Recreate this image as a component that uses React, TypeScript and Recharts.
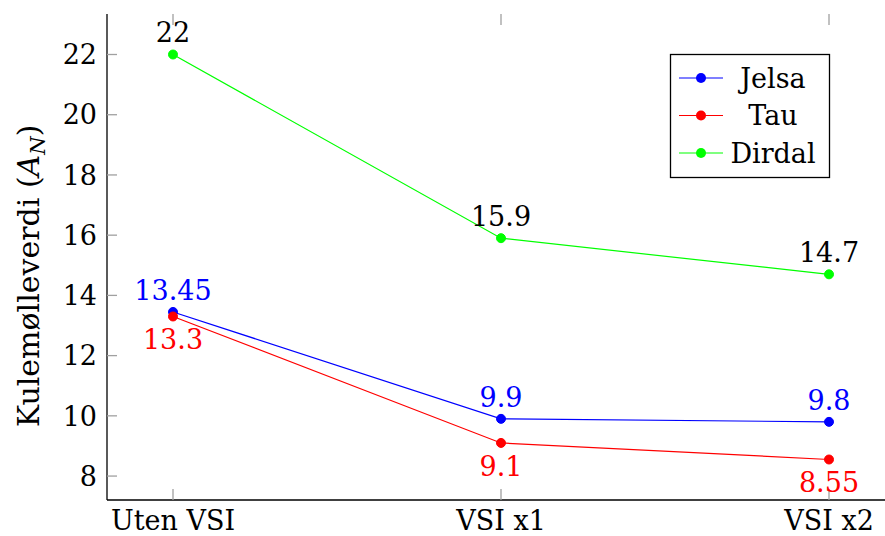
import React from "react";
import { LineChart, Line, XAxis, YAxis, LabelList, Label } from "recharts";

const categories = ["Uten VSI", "VSI x1", "VSI x2"];
const jelsa = [13.45, 9.9, 9.8];
const tau = [13.3, 9.1, 8.55];
const dirdal = [22, 15.9, 14.7];
const yTicks = [8, 10, 12, 14, 16, 18, 20, 22];
const yDomain = [7.205, 23.345];

const data = categories.map((c, i) => ({ name: c, Jelsa: jelsa[i], Tau: tau[i], Dirdal: dirdal[i] }));

const FONT = "DejaVu Serif";
const FS = 27;
const W = 910;
const H = 536;
const PL = 107;
const PR = 895;
const PT = 14;
const PB = 500;
const TICK = "#a0a0a0";
const TS = { fontFamily: FONT, fontSize: FS };

const series = [
  { key: "Jelsa", color: "#0000ff", labelColor: "#0000ff", pos: "above" },
  { key: "Tau", color: "#ff0000", labelColor: "#ff0000", pos: "below" },
  { key: "Dirdal", color: "#00ff00", labelColor: "#000000", pos: "above" },
];

const YTick = (props: any) => {
  const { y, payload } = props;
  return (
    <g>
      <line x1={PL} x2={PL + 10} y1={y} y2={y} stroke={TICK} strokeWidth={1.3} />
      <line x1={PR - 10} x2={PR} y1={y} y2={y} stroke={TICK} strokeWidth={1.3} />
      <text x={97} y={y} dy="0.36em" textAnchor="end" style={TS} fill="#000">
        {payload.value}
      </text>
    </g>
  );
};

const XTick = (props: any) => {
  const { x, payload } = props;
  return (
    <g>
      <line x1={x} x2={x} y1={PB - 11} y2={PB} stroke={TICK} strokeWidth={1.3} />
      <line x1={x} x2={x} y1={PT} y2={PT + 11} stroke={TICK} strokeWidth={1.3} />
      <text x={x} y={530} textAnchor="middle" style={TS} fill="#000">
        {payload.value}
      </text>
    </g>
  );
};

const makeLabel = (color: string, pos: string) => (props: any) => {
  const { x, y, value } = props;
  const dy = pos === "above" ? -22 : 23;
  return (
    <text x={x} y={y + dy} dy="0.36em" textAnchor="middle" style={TS} fill={color}>
      {value}
    </text>
  );
};

const LegendBox = () => (
  <svg width={160} height={124} style={{ position: "absolute", left: 670, top: 54, overflow: "visible" }}>
    <rect x={0.5} y={0.5} width={159} height={123} fill="#fff" stroke="#000" strokeWidth={1.3} />
    {series.map((s, i) => {
      const cy = 24 + i * 37.5;
      return (
        <g key={s.key}>
          <line x1={9} x2={53} y1={cy} y2={cy} stroke={s.color} strokeWidth={1.2} />
          <circle cx={31} cy={cy} r={5} fill={s.color} />
          <text x={103} y={cy} dy="0.36em" textAnchor="middle" style={TS} fill="#000">
            {s.key}
          </text>
        </g>
      );
    })}
  </svg>
);

const YLabel = () => (
  <text
    x={28}
    y={276}
    dy="0.36em"
    transform="rotate(-90 28 276)"
    textAnchor="middle"
    style={{ fontFamily: FONT, fontSize: 30 }}
    fill="#000"
  >
    Kulemølleverdi (<tspan fontStyle="italic">A</tspan>
    <tspan fontStyle="italic" style={{ fontSize: 21 }} dy={6}>N</tspan>
    <tspan dy={-6}>)</tspan>
  </text>
);

export default function App() {
  return (
    <div style={{ position: "absolute", left: 0, top: 0, width: 885, height: 536, overflow: "hidden", background: "#fff" }}>
      <LineChart width={W} height={H} data={data} margin={{ top: PT, right: W - PR, bottom: 0, left: 0 }}>
        <XAxis
          dataKey="name"
          xAxisId={0}
          height={H - PB}
          padding={{ left: 66, right: 66 }}
          tickLine={false}
          tick={<XTick />}
          axisLine={{ stroke: "#000", strokeWidth: 1.3 }}
          interval={0}
        />
        <XAxis
          dataKey="name"
          xAxisId="top"
          orientation="top"
          height={0}
          padding={{ left: 66, right: 66 }}
          tick={false}
          tickLine={false}
          axisLine={{ stroke: "#000", strokeWidth: 1.3 }}
        />
        <YAxis
          yAxisId={0}
          width={PL}
          type="number"
          domain={yDomain}
          ticks={yTicks}
          allowDataOverflow
          tickLine={false}
          tick={<YTick />}
          axisLine={{ stroke: "#000", strokeWidth: 1.3 }}
        >
          <Label content={<YLabel />} />
        </YAxis>
        <YAxis
          yAxisId="right"
          orientation="right"
          width={0}
          type="number"
          domain={yDomain}
          allowDataOverflow
          tick={false}
          tickLine={false}
          axisLine={{ stroke: "#000", strokeWidth: 1.3 }}
        />
        {series.map((s) => (
          <Line
            key={s.key}
            dataKey={s.key}
            xAxisId={0}
            yAxisId={0}
            type="linear"
            stroke={s.color}
            strokeWidth={1.2}
            dot={{ r: 4.5, fill: s.color, stroke: s.color, strokeWidth: 1 }}
            activeDot={false}
            isAnimationActive={false}
          >
            <LabelList dataKey={s.key} content={makeLabel(s.labelColor, s.pos)} />
          </Line>
        ))}
      </LineChart>
      <LegendBox />
    </div>
  );
}
